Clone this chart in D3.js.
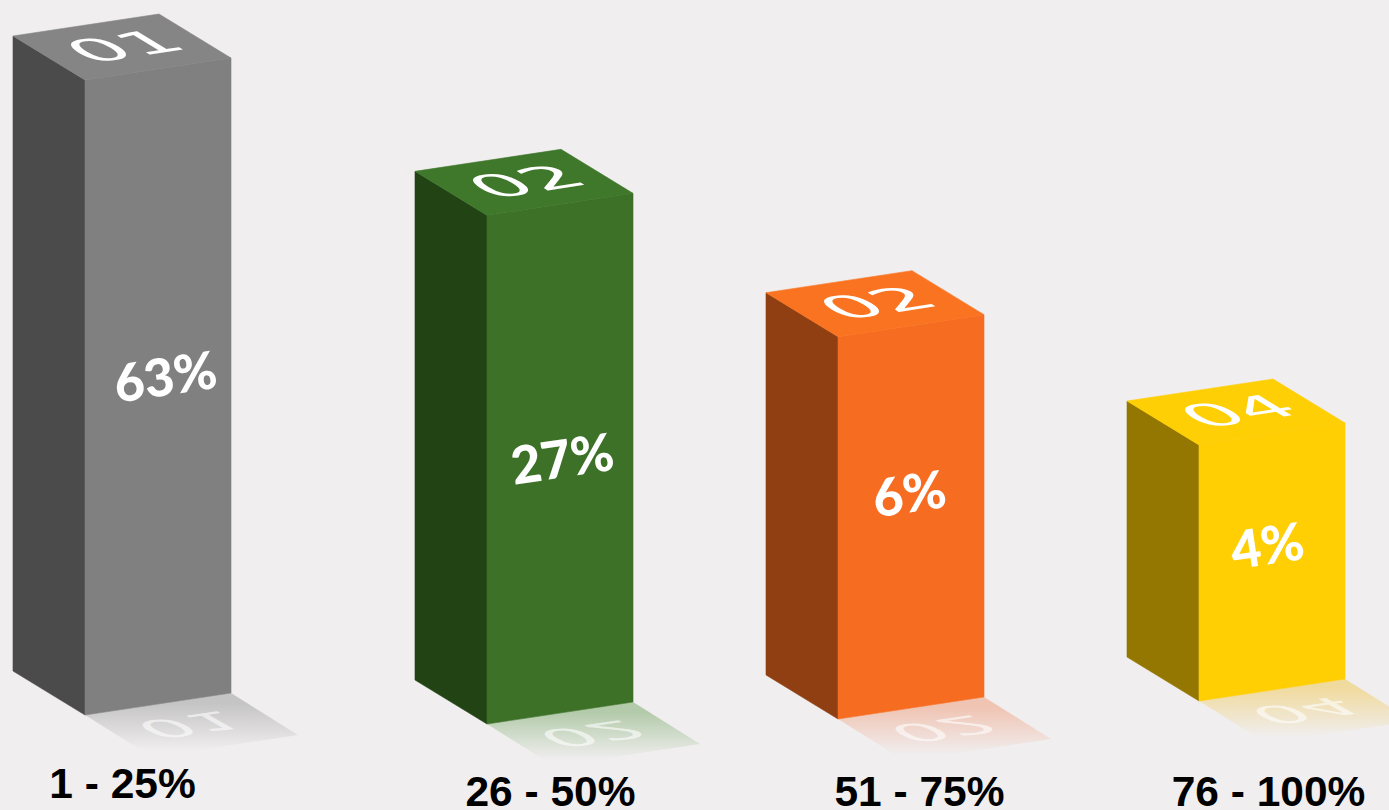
<!DOCTYPE html>
<html><head><meta charset="utf-8">
<script src="https://cdn.jsdelivr.net/npm/d3@7"></script>
<style>html,body{margin:0;padding:0;background:#f0eeef;overflow:hidden}svg{display:block}</style>
</head><body>
<script>
const categories = ["1 - 25%", "26 - 50%", "51 - 75%", "76 - 100%"];
const shares = ["63%", "27%", "6%", "4%"];
const topLabels = ["01", "02", "02", "04"];
const heightLevels = [5, 4, 3, 2];

const W = 1389, H = 810;
const frontColors = ["#808080", "#3c7127", "#f66d22", "#ffce03"];
const topColors = ["#858585", "#3f772b", "#fa7320", "#ffcf05"];
const sideColors = ["#4b4b4b", "#224415", "#8f3f11", "#937700"];
const reflectColors = ["#8a8a8a", "#5f9a4a", "#f08a60", "#f0c030"];

const xFront = d3.scaleOrdinal(categories, [85, 487, 838, 1199]);
const yBase = d3.scaleOrdinal(categories, [715, 724, 719, 701]);
const h = d3.scaleLinear([2, 5], [256, 635]);
const labelPos = d3.scaleOrdinal(categories, [[122.5, 798], [550.5, 806], [919.5, 806], [1268.5, 806]]);
const sharePos = d3.scaleOrdinal(categories, [[168, 395], [565, 477], [912, 512], [1270, 564]]);

const fw = 146, fs = -22, dx = 72, dy = 44;   // front width / slope, depth
const rx = 67, ry = 42;                       // reflection extent

const svg = d3.select("body").append("svg").attr("width", W).attr("height", H);
svg.append("rect").attr("width", W).attr("height", H).attr("fill", "#f0eeef");
const defs = svg.append("defs");

categories.forEach((c, i) => {
  const b = yBase(c);
  const g = defs.append("linearGradient").attr("id", "rf" + i)
    .attr("gradientUnits", "userSpaceOnUse")
    .attr("x1", 0).attr("y1", b - 12).attr("x2", 0).attr("y2", b + 36);
  g.append("stop").attr("offset", 0).attr("stop-color", reflectColors[i]).attr("stop-opacity", 0.42);
  g.append("stop").attr("offset", 1).attr("stop-color", reflectColors[i]).attr("stop-opacity", 0);
});

const poly = pts => pts.map(p => p.join(",")).join(" ");
const bars = svg.selectAll("g.bar").data(categories).join("g").attr("class", "bar");

bars.each(function (c, i) {
  const g = d3.select(this);
  const x = xFront(c), b = yBase(c), top = b - h(heightLevels[i]);
  // floor reflection
  g.append("polygon").attr("points", poly([[x, b], [x + fw, b + fs], [x + fw + rx, b + fs + ry], [x + rx, b + ry]]))
    .attr("fill", `url(#rf${i})`);
  g.append("text").text(topLabels[i])
    .attr("transform", `matrix(1.17,-0.17,-0.62,-0.35,${x + 92},${b + 2})`)
    .attr("font-family", "DejaVu Sans").attr("font-size", 63).attr("fill", "#fff").attr("fill-opacity", 0.6)
    .attr("text-anchor", "middle");
  // left side
  g.append("polygon").attr("points", poly([[x - dx, top - dy], [x, top], [x, b], [x - dx, b - dy]]))
    .attr("fill", sideColors[i]).attr("stroke", sideColors[i]).attr("stroke-width", 0.6);
  // front
  g.append("polygon").attr("points", poly([[x, top], [x + fw, top + fs], [x + fw, b + fs], [x, b]]))
    .attr("fill", frontColors[i]).attr("stroke", frontColors[i]).attr("stroke-width", 0.6);
  // top
  g.append("polygon").attr("points", poly([[x - dx, top - dy], [x - dx + fw, top - dy + fs], [x + fw, top + fs], [x, top]]))
    .attr("fill", topColors[i]).attr("stroke", topColors[i]).attr("stroke-width", 0.6);
  g.append("text").text(topLabels[i])
    .attr("transform", `matrix(1.25,-0.19,0.72,0.44,${x + 55},${top - 24})`)
    .attr("font-family", "DejaVu Sans").attr("font-size", 63).attr("fill", "#fff")
    .attr("text-anchor", "middle");
  // share
  const [sx, sy] = sharePos(c);
  g.append("text").text(shares[i])
    .attr("transform", `translate(${sx},${sy}) rotate(-8.5)`)
    .attr("font-family", "Lato").attr("font-weight", 900).attr("font-size", 52).attr("fill", "#fff")
    .attr("text-anchor", "middle");
  // category
  const [lx, ly] = labelPos(c);
  g.append("text").text(c).attr("x", lx).attr("y", ly)
    .attr("font-family", "Liberation Sans").attr("font-weight", 700).attr("font-size", 42.5).attr("fill", "#000")
    .attr("text-anchor", "middle");
});
</script>
</body></html>
